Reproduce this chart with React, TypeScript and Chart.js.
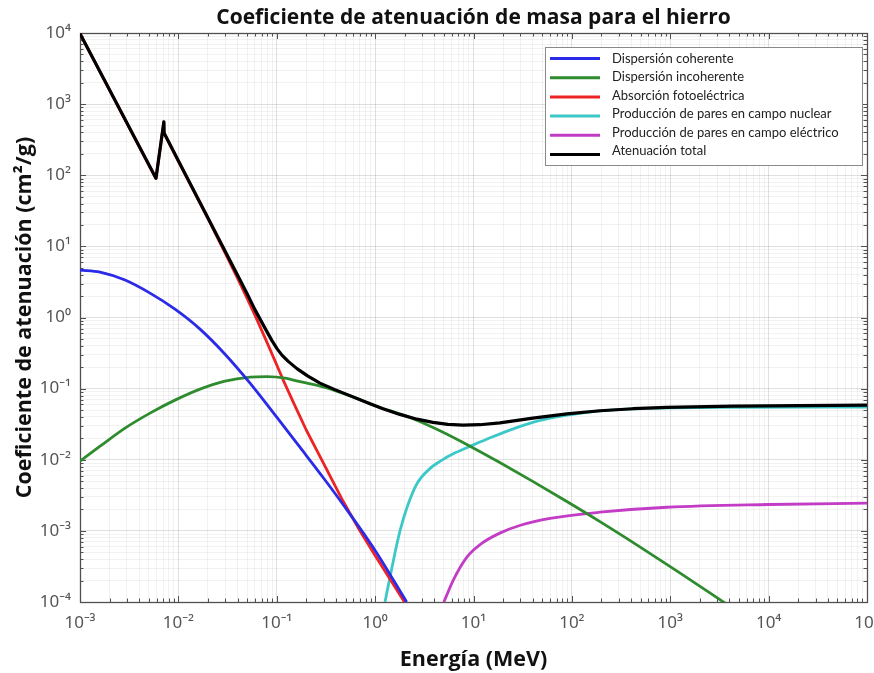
import React, { useEffect, useRef } from "react";
import { Chart, registerables } from "chart.js";

Chart.register(...registerables);

// ---------- data (energy in MeV, coefficient in cm²/g) ----------
const coherentE = [0.001, 0.0016, 0.00287, 0.00515, 0.00924, 0.0166, 0.0298, 0.0535, 0.1, 0.172, 0.3, 0.47, 1.0, 2.09];
const coherentV = [4.65, 4.35, 3.36, 2.2, 1.31, 0.687, 0.305, 0.1195, 0.0397, 0.015, 0.0055, 0.00237, 0.00053, 0.0001];

const incoherentE = [0.001, 0.0016, 0.00287, 0.00515, 0.00924, 0.0166, 0.0298, 0.0535, 0.0795, 0.121, 0.172, 0.309, 0.555, 0.996, 2.26, 4.56, 9.62, 18.5, 40, 88.9, 193, 491, 1250, 3590];
const incoherentV = [0.00956, 0.0155, 0.0278, 0.0452, 0.0689, 0.0984, 0.1275, 0.145, 0.1475, 0.1405, 0.125, 0.104, 0.079, 0.0575, 0.0392, 0.0255, 0.015, 0.00913, 0.00497, 0.00259, 0.00135, 0.000597, 0.000257, 0.0000971];

const photoE = [0.001, 0.00592, 0.00712, 0.00716, 0.01, 0.02, 0.03, 0.04, 0.05, 0.06, 0.08, 0.1, 0.116, 0.15, 0.2, 0.3, 0.47, 0.7, 1.0, 2.1];
const photoV = [9790, 90, 560, 390, 157, 24.5, 8.0, 3.55, 1.86, 1.08, 0.44, 0.215, 0.133, 0.061, 0.026, 0.0088, 0.00265, 0.001, 0.00045, 0.0000884];

const pairNucE = [1.26, 1.36, 1.48, 1.62, 1.79, 2.1, 2.66, 3.6, 4.56, 6.5, 9.6, 15, 25, 40, 70, 120, 193, 500, 1000, 5000, 100000];
const pairNucV = [0.0001, 0.00017, 0.0003, 0.00055, 0.001, 0.0021, 0.0046, 0.0075, 0.0095, 0.0125, 0.0158, 0.0205, 0.027, 0.0335, 0.04, 0.045, 0.0485, 0.0522, 0.0535, 0.0545, 0.055];

const pairElE = [5.0, 6.2, 8.6, 12, 18.5, 30, 60, 193, 923, 10000, 100000];
const pairElV = [0.0001, 0.0002, 0.00043, 0.00066, 0.00093, 0.0012, 0.0015, 0.00183, 0.00215, 0.00235, 0.00245];

const totalE = [0.001, 0.00592, 0.00712, 0.00716, 0.01, 0.02, 0.03, 0.04, 0.05, 0.06, 0.0789, 0.0894, 0.1005, 0.1129, 0.13, 0.1604, 0.2075, 0.2748, 0.3904, 0.5546, 0.8254, 1.2003, 1.786, 2.66, 3.867, 5.493, 7.8, 11.61, 18.55, 40.15, 88.97, 192.6, 416.8, 923.5, 4327, 20760, 100000];
const totalV = [9800, 91, 565, 393, 160, 25, 8.45, 3.92, 2.15, 1.29, 0.6436, 0.4732, 0.3653, 0.296, 0.2436, 0.1911, 0.1499, 0.1195, 0.0968, 0.0797, 0.064, 0.0523, 0.0434, 0.0372, 0.0335, 0.03136, 0.03067, 0.03108, 0.03293, 0.03847, 0.04421, 0.04889, 0.05217, 0.05442, 0.0567, 0.0578, 0.0586];

const seriesLabels = [
  "Dispersión coherente",
  "Dispersión incoherente",
  "Absorción fotoeléctrica",
  "Producción de pares en campo nuclear",
  "Producción de pares en campo eléctrico",
  "Atenuación total",
];
const seriesColors = ["#2a2ae8", "#2e8b2e", "#ee2424", "#3cc8c8", "#c23cc6", "#000000"];
const smoothSeries = [true, true, false, true, true, false];

const xExpMin = -3, xExpMax = 5;
const yExpMin = -4, yExpMax = 4;

const titleText = "Coeficiente de atenuación de masa para el hierro";
const xTitle = "Energía (MeV)";
const yTitle = "Coeficiente de atenuación (cm²/g)";

// ---------- helpers ----------
const SUP: Record<string, string> = { "-": "⁻", "0": "⁰", "1": "¹", "2": "²", "3": "³", "4": "⁴", "5": "⁵", "6": "⁶", "7": "⁷", "8": "⁸", "9": "⁹" };
const pow10Label = (e: number) => "10" + String(e).split("").map((c) => SUP[c]).join("");
const isDecade = (v: number) => {
  if (!(v > 0)) return false;
  const l = Math.log10(v);
  return Math.abs(l - Math.round(l)) < 1e-9;
};
const logTicks = (a: number, b: number) => {
  const out: { value: number }[] = [];
  for (let e = a; e < b; e++) for (let d = 1; d <= 9; d++) out.push({ value: parseFloat((d * Math.pow(10, e)).toPrecision(6)) });
  out.push({ value: Math.pow(10, b) });
  return out;
};
const pts = (xs: number[], ys: number[]) => xs.map((x, i) => ({ x, y: ys[i] }));

const MAJOR_GRID = "rgba(0,0,0,0.12)";
const MINOR_GRID = "rgba(0,0,0,0.05)";
const TITLE_FONT = { family: "'Open Sans'", size: 21, weight: "bold" as const };
const AXIS_TITLE_FONT = { family: "'Open Sans'", size: 21.5, weight: "bold" as const };
const TICK_FONT = { family: "'Noto Sans'", size: 17 };

const framePlugin = {
  id: "frame",
  beforeDatasetsDraw(chart: any) {
    const { ctx, chartArea: a, scales } = chart;
    const x = scales.x, y = scales.y;
    ctx.save();
    ctx.strokeStyle = "#505050";
    ctx.lineWidth = 1;
    ctx.beginPath();
    for (const t of x.ticks) {
      const px = Math.round(x.getPixelForValue(t.value)) + 0.5;
      const len = isDecade(t.value) ? 6 : 3.5;
      ctx.moveTo(px, a.bottom); ctx.lineTo(px, a.bottom - len);
      ctx.moveTo(px, a.top); ctx.lineTo(px, a.top + len);
    }
    for (const t of y.ticks) {
      const py = Math.round(y.getPixelForValue(t.value)) + 0.5;
      const len = isDecade(t.value) ? 6 : 3.5;
      ctx.moveTo(a.left, py); ctx.lineTo(a.left + len, py);
      ctx.moveTo(a.right, py); ctx.lineTo(a.right - len, py);
    }
    ctx.stroke();
    ctx.lineWidth = 1.3;
    ctx.strokeRect(Math.round(a.left) + 0.5, Math.round(a.top) + 0.5, Math.round(a.right - a.left), Math.round(a.bottom - a.top));
    ctx.restore();
  },
};

const legendPlugin = {
  id: "boxLegend",
  afterDraw(chart: any) {
    const { ctx, chartArea: a } = chart;
    const w = 317, h = 118;
    const right = a.right - 5;
    const left = right - w;
    const top = a.top + 14;
    ctx.save();
    ctx.fillStyle = "#ffffff";
    ctx.fillRect(left, top, w, h);
    ctx.strokeStyle = "#8a8a8a";
    ctx.lineWidth = 1;
    ctx.strokeRect(Math.round(left) + 0.5, Math.round(top) + 0.5, w, h);
    ctx.font = "13px Lato, 'Noto Sans', sans-serif";
    ctx.textBaseline = "middle";
    ctx.textAlign = "left";
    chart.data.datasets.forEach((ds: any, i: number) => {
      const ly = top + 11.5 + i * 19.2;
      ctx.strokeStyle = ds.borderColor;
      ctx.lineWidth = 3;
      ctx.beginPath();
      ctx.moveTo(left + 5, ly);
      ctx.lineTo(left + 55, ly);
      ctx.stroke();
      ctx.fillStyle = "#222";
      ctx.fillText(ds.label, left + 67, ly - i * 0.7);
    });
    ctx.restore();
  },
};

export default function App() {
  const ref = useRef<HTMLCanvasElement | null>(null);

  useEffect(() => {
    if (!ref.current) return;
    const data = [
      pts(coherentE, coherentV),
      pts(incoherentE, incoherentV),
      pts(photoE, photoV),
      pts(pairNucE, pairNucV),
      pts(pairElE, pairElV),
      pts(totalE, totalV),
    ];
    const chart = new Chart(ref.current, {
      type: "line",
      data: {
        datasets: data.map((d, i) => ({
          label: seriesLabels[i],
          data: d,
          borderColor: seriesColors[i],
          backgroundColor: seriesColors[i],
          borderWidth: i === 5 ? 3.2 : 2.8,
          pointRadius: 0,
          fill: false,
          tension: 0,
          cubicInterpolationMode: smoothSeries[i] ? "monotone" : "default",
          borderJoinStyle: "round",
          order: i === 5 ? -1 : i,
        })),
      },
      options: {
        animation: false,
        responsive: false,
        devicePixelRatio: 1,
        layout: { padding: { left: 0, right: 7, top: 0, bottom: 0 } },
        plugins: {
          legend: { display: false },
          tooltip: { enabled: false },
          title: {
            display: true,
            text: titleText,
            fullSize: false,
            color: "#111",
            font: TITLE_FONT,
            padding: { top: 5.5, bottom: 2.3 },
          },
        },
        scales: {
          x: {
            type: "logarithmic",
            position: "bottom",
            min: Math.pow(10, xExpMin),
            max: Math.pow(10, xExpMax),
            afterBuildTicks: (s: any) => { s.ticks = logTicks(xExpMin, xExpMax); },
            afterFit: (s: any) => { s.height = 71; s.paddingLeft = 0; s.paddingRight = 0; },
            grid: {
              drawTicks: false,
              color: (c: any) => (isDecade(c.tick?.value) ? MAJOR_GRID : MINOR_GRID),
              lineWidth: 1,
            },
            border: { display: false },
            ticks: {
              autoSkip: false,
              maxRotation: 0,
              minRotation: 0,
              padding: 11,
              color: "#555",
              font: TICK_FONT,
              callback: (v: any) => (isDecade(Number(v)) ? pow10Label(Math.round(Math.log10(Number(v)))) : ""),
            },
            title: {
              display: true,
              text: xTitle,
              color: "#111",
              font: AXIS_TITLE_FONT,
              padding: { top: 0, bottom: 0 },
            },
          },
          y: {
            type: "logarithmic",
            position: "left",
            min: Math.pow(10, yExpMin),
            max: Math.pow(10, yExpMax),
            afterBuildTicks: (s: any) => { s.ticks = logTicks(yExpMin, yExpMax); },
            afterFit: (s: any) => { s.width = 80; s.paddingTop = 0; s.paddingBottom = 0; },
            grid: {
              drawTicks: false,
              color: (c: any) => (isDecade(c.tick?.value) ? MAJOR_GRID : MINOR_GRID),
              lineWidth: 1,
            },
            border: { display: false },
            ticks: {
              autoSkip: false,
              padding: 9,
              color: "#555",
              font: TICK_FONT,
              callback: (v: any) => (isDecade(Number(v)) ? pow10Label(Math.round(Math.log10(Number(v)))) : ""),
            },
            title: {
              display: true,
              text: yTitle,
              color: "#111",
              font: AXIS_TITLE_FONT,
              padding: { top: 12, bottom: 0 },
            },
          },
        },
      },
      plugins: [framePlugin, legendPlugin],
    } as any);
    return () => chart.destroy();
  }, []);

  return (
    <div style={{ position: "absolute", left: 0, top: 0, width: 874, height: 673, overflow: "hidden", background: "#fff" }}>
      <canvas ref={ref} width={874} height={673} style={{ display: "block" }} />
    </div>
  );
}
